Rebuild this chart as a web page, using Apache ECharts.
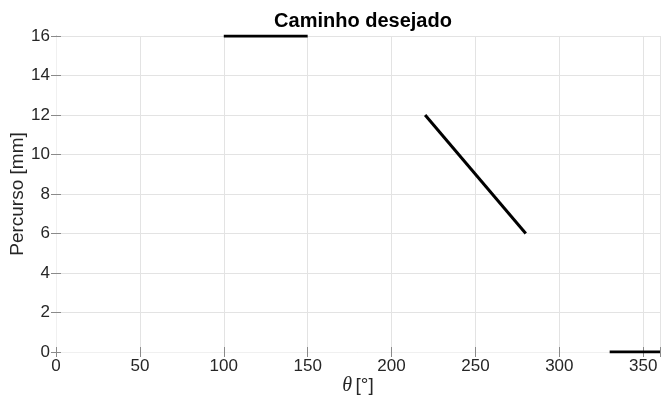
<!DOCTYPE html>
<html><head><meta charset="utf-8">
<script src="https://cdn.jsdelivr.net/npm/echarts@6/dist/echarts.min.js"></script>
<style>html,body{margin:0;padding:0;background:#fff}#c{width:661px;height:404px}</style>
</head><body><div id="c"></div>
<script>
const titleText = "Caminho desejado";
const xLabel = "θ [°]";
const yLabel = "Percurso [mm]";
const xTicks = [0, 50, 100, 150, 200, 250, 300, 350];
const yTicks = [0, 2, 4, 6, 8, 10, 12, 14, 16];
const seg1 = [[100, 16], [150, 16]];
const seg2 = [[220, 12], [280, 6]];
const seg3 = [[330, 0], [360, 0]];

const font = "'Liberation Sans', Arial, sans-serif";
const txt = '#262626';
const axisCol = '#8a8a8a';
const gridCol = '#e3e3e3';

const chart = echarts.init(document.getElementById('c'), null, {renderer: 'canvas'});
const lineS = (d) => ({type: 'line', data: d, symbol: 'none', lineStyle: {color: '#000', width: 3, cap: 'butt'}, silent: true, animation: false});
chart.setOption({
  animation: false,
  title: {text: titleText, left: 358, top: 6, textAlign: 'center',
    textStyle: {fontFamily: font, fontWeight: 'bold', fontSize: 20, color: '#000'}},
  grid: {left: 56, right: 1, top: 36, bottom: 52, containLabel: false, outerBoundsMode: 'none'},
  xAxis: [{
    type: 'value', min: 0, max: 360, interval: 50,
    name: '{t|θ} {r|[°]}', nameLocation: 'middle', nameGap: 24, nameMoveOverlap: false,
    nameTextStyle: {rich: {
      t: {fontFamily: "'Liberation Serif', 'Times New Roman', serif", fontStyle: 'italic', fontSize: 20, color: txt},
      r: {fontFamily: font, fontSize: 19, color: txt}}},
    axisLine: {show: true, onZero: false, lineStyle: {color: axisCol, width: 1}},
    axisTick: {show: true, inside: true, length: 5, lineStyle: {color: axisCol}},
    axisLabel: {color: txt, fontFamily: font, fontSize: 17, margin: 6,
      formatter: (v) => xTicks.includes(v) ? String(v) : ''},
    splitLine: {show: true, lineStyle: {color: gridCol, width: 1}}
  }, {
    type: 'value', position: 'top', min: 0, max: 360, interval: 50,
    axisLine: {show: true, lineStyle: {color: '#f0f0f0', width: 1}},
    axisTick: {show: true, inside: true, length: 5, lineStyle: {color: axisCol}},
    axisLabel: {show: false}, splitLine: {show: false}
  }],
  yAxis: [{
    type: 'value', min: 0, max: 16, interval: 2,
    name: yLabel, nameLocation: 'middle', nameGap: 29, nameMoveOverlap: false,
    nameTextStyle: {fontFamily: font, fontSize: 19, color: txt},
    axisLine: {show: true, lineStyle: {color: axisCol, width: 1}},
    axisTick: {show: true, inside: true, length: 5, lineStyle: {color: axisCol}},
    axisLabel: {color: txt, fontFamily: font, fontSize: 17, margin: 6,
      formatter: (v) => yTicks.includes(v) ? String(v) : ''},
    splitLine: {show: true, lineStyle: {color: gridCol, width: 1}}
  }, {
    type: 'value', position: 'right', min: 0, max: 16, interval: 2,
    axisLine: {show: true, lineStyle: {color: '#f0f0f0', width: 1}},
    axisTick: {show: true, inside: true, length: 5, lineStyle: {color: axisCol}},
    axisLabel: {show: false}, splitLine: {show: false}
  }],
  series: [lineS(seg1), lineS(seg2), lineS(seg3)]
});
</script></body></html>
